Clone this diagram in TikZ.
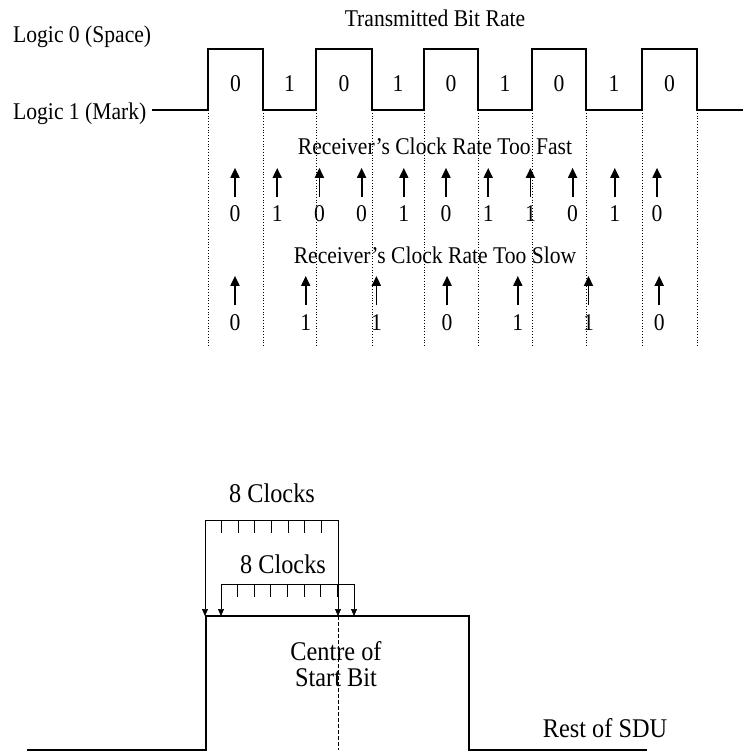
\documentclass[tikz,border=0pt]{standalone}
\usepackage{fontspec}
\setmainfont{Liberation Serif}[FakeStretch=0.9]
\usetikzlibrary{arrows.meta}

\begin{document}
\begin{tikzpicture}[x=1pt, y=-1pt,
  txt/.style={inner sep=0pt, anchor=base, font=\fontsize{24}{26}\selectfont},
  big/.style={txt, font=\fontsize{27}{29}\selectfont},
  wave/.style={line width=1.6pt},
  grid/.style={dotted, line width=0.8pt},
  clkarr/.style={line width=1.8pt, -{Triangle[length=10pt, width=9pt]}},
  brk/.style={line width=0.7pt},
  brkarr/.style={brk, {Triangle[length=7pt, width=6pt]}-{Triangle[length=7pt, width=6pt]}}]
\useasboundingbox (0,0) rectangle (743,751);
\node[txt] (title) at (435,27) {Transmitted Bit Rate};
\node[txt, anchor=base west] (space) at (13,43) {Logic 0 (Space)};
\node[txt, anchor=base west] (mark) at (13,120) {Logic 1 (Mark)};
\draw[wave] (152,110) -| (208,49) -| (263,110) -| (316,49) -| (372,110) -| (424,49)
  -| (478,110) -| (532,49) -| (586,110) -| (642,49) -| (697,110) -- (743,110);
\foreach \x/\b [count=\i] in {235.5/0, 289.5/1, 344/0, 398/1, 451/0, 505/1, 559/0, 614/1, 669.5/0}
  \node[txt] (b\i) at (\x,92) {\b};
\foreach \x in {208,263,316,372,424,478,532,586,642,697}
  \draw[grid] (\x,110) -- (\x,347);
\node[txt] (fast) at (435,155) {Receiver's Clock Rate Too Fast};
\foreach \b [count=\i from 0] in {0,1,0,0,1,0,1,1,0,1,0} {
  \node[txt] (f\i) at (235+42.2*\i,222) {\b};
  \draw[clkarr] (f\i.north) ++(0,-9) -- ++(0,-29);
}
\node[txt] (slow) at (435,263) {Receiver's Clock Rate Too Slow};
\foreach \b [count=\i from 0] in {0,1,1,0,1,1,0} {
  \node[txt] (s\i) at (235+70.7*\i,330) {\b};
  \draw[clkarr] (s\i.north) ++(0,-9) -- ++(0,-29);
}

\node[big] (clka) at (272,502) {8 Clocks};
\node[big] (clkb) at (283,573) {8 Clocks};
\draw[wave] (27,750) -| (206,616) -| (469,750) -- (647,750);
\draw[brk, dash pattern=on 4pt off 2pt, line width=0.6pt] (338,616) -- (338,750);
\draw[brkarr] (205,616) |- (338,520) -- (338,616);
\foreach \k in {1,...,7}
  \draw[brk] (205+16.6*\k,520) -- ++(0,13);
\draw[brkarr] (221,616) |- (354,584) -- (354,616);
\foreach \k in {1,...,7}
  \draw[brk] (221+16.6*\k,584) -- ++(0,13);
\node[big] (cen1) at (336,660) {Centre of};
\node[big] (cen2) at (336,686) {Start Bit};
\node[big] (rest) at (605,737) {Rest of SDU};
\end{tikzpicture}
\end{document}
